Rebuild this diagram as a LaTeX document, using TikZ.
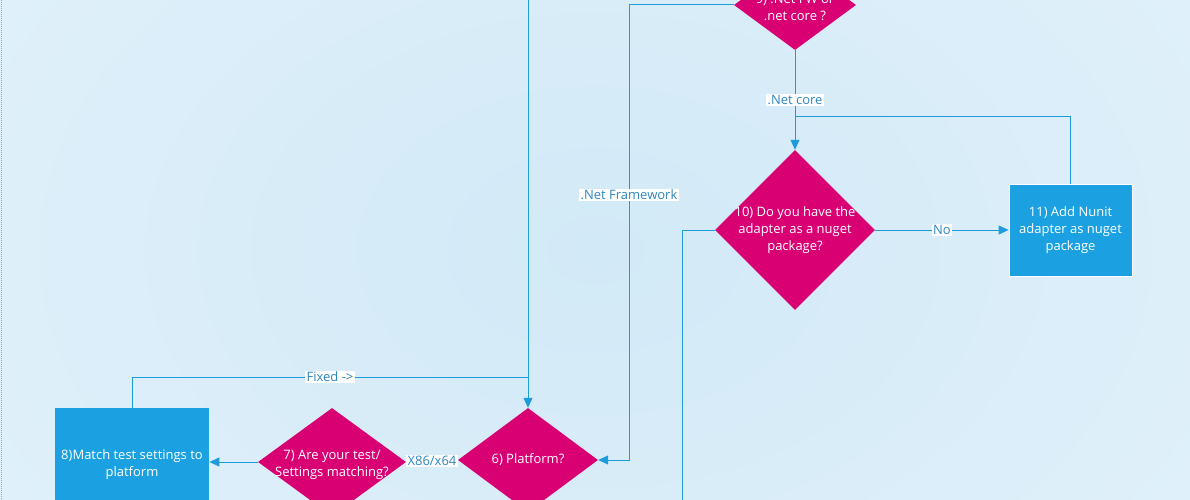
\documentclass[tikz,border=0pt]{standalone}
\usepackage{fontspec}
\setmainfont{Open Sans}
\usetikzlibrary{shapes.geometric,arrows.meta}
\definecolor{bgin}{HTML}{D2E9F7}
\definecolor{bgout}{HTML}{E1F1FA}
\definecolor{mag}{HTML}{D80073}
\definecolor{boxblue}{HTML}{1BA1E2}
\definecolor{lineblue}{HTML}{1E9BDB}
\definecolor{lbltext}{HTML}{2F86BF}
\tikzset{
  dia/.style={diamond, fill=mag, draw=none, inner sep=0pt},
  bluebox/.style={rectangle, fill=boxblue, draw=white, line width=0.8pt, inner sep=0pt},
  intext/.style={text=white, align=center, inner sep=0pt, font=\fontsize{13}{17}\selectfont},
  conn/.style={draw=lineblue, line width=1pt},
  arr/.style={conn, -{Triangle[length=10pt,width=9pt]}},
  lbl/.style={fill=white, text=lbltext, inner sep=1.2pt, font=\fontsize{13}{15}\selectfont}
}
\begin{document}
\begin{tikzpicture}[x=1pt,y=-1pt]
\useasboundingbox (0,0) rectangle (1190,500);
\clip (0,0) rectangle (1190,500);
\shade[inner color=bgin, outer color=bgout] (-200,-300) rectangle (1390,800);
\draw[gray!70, dash pattern=on 1pt off 1pt, line width=1pt] (1,0) -- (1,500);

% nodes
\node[dia, minimum width=122pt, minimum height=90pt,
  label={[intext, yshift=-2pt]center:9) .Net FW or\\.net core ?}] (d9) at (795,5) {};
\node[dia, minimum width=160pt, minimum height=160pt,
  label={[intext]center:10) Do you have the\\adapter as a nuget\\package?}] (d10) at (795,230) {};
\node[bluebox, minimum width=123pt, minimum height=92pt,
  label={[intext]center:11) Add Nunit\\adapter as nuget\\package}] (b11) at (1070.5,230) {};
\node[dia, minimum width=140pt, minimum height=104pt,
  label={[intext]center:6) Platform?}] (d6) at (528,460) {};
\node[dia, minimum width=148pt, minimum height=108pt,
  label={[intext, yshift=-3pt]center:7) Are your test/\\Settings matching?}] (d7) at (332,462) {};
\node[bluebox, draw=none, minimum width=154pt, minimum height=108pt,
  label={[intext, yshift=-3pt]center:8)Match test settings to\\platform}] (b8) at (132,462) {};

\coordinate (top6) at (528,-10);
\coordinate (bot10) at (682,520);

% connectors
\draw[arr] (d9.west) -| (629,195) node[lbl] {.Net Framework} |- (d6.east);
\draw[arr] (d9.south) -- (d10.north) node[midway, lbl] {.Net core};
\draw[arr] (d10.east) -- (b11.west) node[midway, lbl] {No};
\draw[conn] (b11.north) |- (795,117);
\draw[conn] (d10.west) -| (bot10);
\draw[arr] (top6) -- (d6.north);
\draw[conn] (b8.north) |- (528,377) node[pos=0.75, lbl] {Fixed ->};
\draw[arr] (d6.west) -- (d7.east) node[midway, lbl] {X86/x64};
\draw[arr] (d7.west) -- (b8.east);
\end{tikzpicture}
\end{document}
